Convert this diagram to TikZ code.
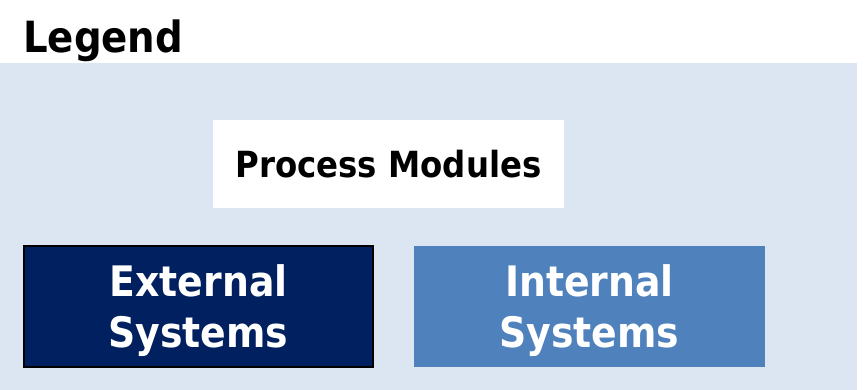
\documentclass[tikz,border=0pt]{standalone}
\usepackage{fontspec}
\setmainfont{DejaVu Sans Condensed}
\usetikzlibrary{positioning}
\definecolor{legendbg}{HTML}{DCE6F2}
\definecolor{extblue}{HTML}{002060}
\definecolor{intblue}{HTML}{4F81BD}
\tikzset{
  legendbox/.style={minimum width=351pt,minimum height=121pt,inner sep=0pt,
    align=center,text=white,text depth=0pt,font=\fontsize{42}{51}\selectfont\bfseries},
}
\begin{document}
\begin{tikzpicture}[x=1pt,y=-1pt]
\useasboundingbox (0,0) rectangle (865,390);
\fill[legendbg] (0,63) rectangle (857,390);
\node[anchor=base west,inner sep=0pt,font=\fontsize{43}{50}\selectfont\bfseries] (title) at (23,53) {Legend};

\node[fill=white,minimum width=351pt,minimum height=88pt,inner sep=0pt,
  font=\fontsize{36}{40}\selectfont\bfseries] (process) at (388.5,164) {Process Modules};

\node[legendbox,fill=extblue,draw=black,line width=2pt,minimum width=349pt] (external) at (198.5,306.5) {External\\Systems};
\node[legendbox,fill=intblue] (internal) at (589.5,306.5) {Internal\\Systems};
\end{tikzpicture}
\end{document}
